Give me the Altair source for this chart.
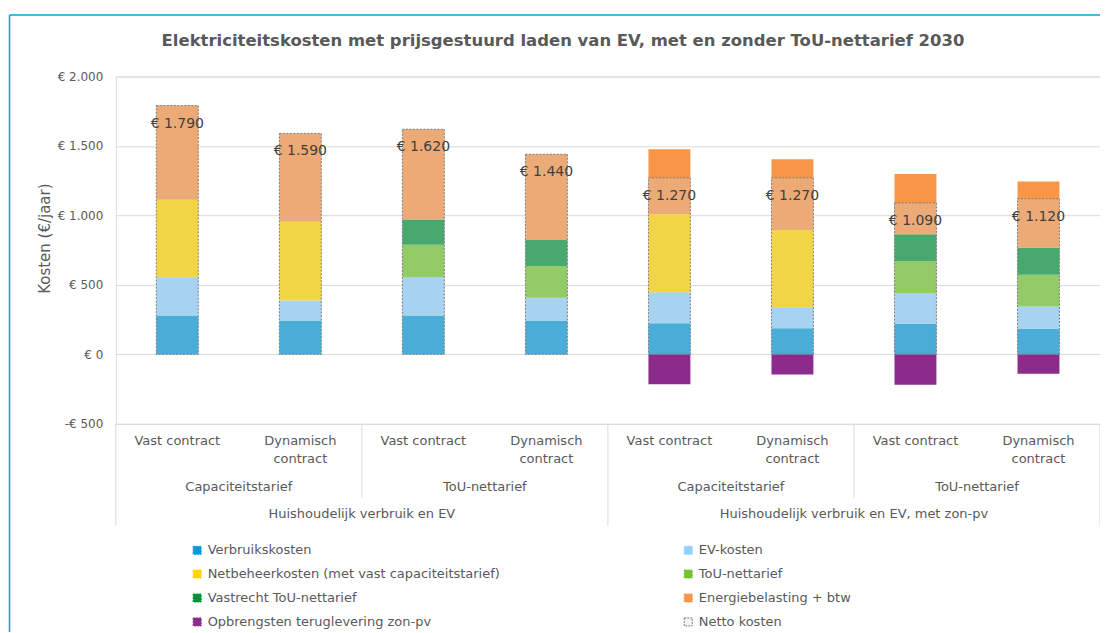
import altair as alt
import pandas as pd

# ---------------- data ----------------
bar_ids = ["b0", "b1", "b2", "b3", "b4", "b5", "b6", "b7"]
contract = ["Vast contract", "Dynamisch\ncontract"] * 4
tarief = ["Capaciteitstarief", "Capaciteitstarief", "ToU-nettarief", "ToU-nettarief",
          "Capaciteitstarief", "Capaciteitstarief", "ToU-nettarief", "ToU-nettarief"]
situatie = ["Huishoudelijk verbruik en EV"] * 4 + ["Huishoudelijk verbruik en EV, met zon-pv"] * 4

# stacking order (bottom to top)
components = ["Verbruikskosten", "EV-kosten",
              "Netbeheerkosten (met vast capaciteitstarief)", "ToU-nettarief",
              "Vastrecht ToU-nettarief", "Energiebelasting + btw",
              "Opbrengsten teruglevering zon-pv", "Netto kosten"]
fill_colors = ["#0499D8", "#8FD1FC", "#FFD400", "#70C532", "#00933A", "#F79646", "#8B2C8B", "#F4F4F4"]
stroke_colors = ["#0499D8", "#8FD1FC", "#FFD400", "#70C532", "#00933A", "#F79646", "#8B2C8B", "#7F7F7F"]
# legend order (legend fills column by column)
legend_order = [0, 2, 4, 6, 1, 3, 5, 7]

verbruik = [280, 240, 280, 240, 223, 187, 221, 185]
ev_kosten = [275, 148, 275, 168, 223, 151, 220, 160]
netbeheer = [557, 566, 0, 0, 563, 556, 0, 0]
tou_nettarief = [0, 0, 234, 227, 0, 0, 230, 228]
vastrecht_tou = [0, 0, 182, 187, 0, 0, 194, 194]
energiebelasting = [678, 636, 649, 618, 467, 510, 432, 477]
opbrengsten = [0, 0, 0, 0, -216, -145, -218, -139]
netto = [1790, 1590, 1620, 1440, 1270, 1270, 1090, 1120]

series = [verbruik, ev_kosten, netbeheer, tou_nettarief, vastrecht_tou, energiebelasting, opbrengsten]


def euro(v):
    s = f"{abs(v):,}".replace(",", ".")
    return ("-€ " if v < 0 else "€ ") + s


rows = []
for k, (name, vals) in enumerate(zip(components[:7], series)):
    for i, v in enumerate(vals):
        if v != 0:
            rows.append({"id": bar_ids[i], "component": name, "value": v, "order": k})
stack_df = pd.DataFrame(rows)

netto_df = pd.DataFrame({"id": bar_ids, "netto": netto, "label": [euro(v) for v in netto]})
row1_df = pd.DataFrame({"id": bar_ids, "label": contract})
row2_df = pd.DataFrame({"id": bar_ids[0::2], "label": tarief[0::2]})
row3_df = pd.DataFrame({"id": [bar_ids[1], bar_ids[5]], "label": [situatie[0], situatie[4]]})
sep_left_df = pd.DataFrame({"id": ["b0", "b2", "b4", "b6"], "kind": ["long", "short", "long", "short"]})
sep_right_df = pd.DataFrame({"id": ["b7"], "kind": ["long"]})
frame_df = pd.DataFrame({"id": ["frame"]})

FONT = "DejaVu Sans"
W, H = 986, 348

xscale = alt.Scale(domain=bar_ids, paddingInner=0, paddingOuter=0)
yscale = alt.Scale(domain=[-500, 2000], nice=False)

label_expr = ("datum.value < 0 ? '-€ ' + replace(format(-datum.value, ','), ',', '.') : "
              "'€ ' + replace(format(datum.value, ','), ',', '.')")

leg_domain = [components[i] for i in legend_order]
leg_fill = [fill_colors[i] for i in legend_order]
leg_stroke = [stroke_colors[i] for i in legend_order]

legend = alt.Legend(
    title=None, orient="none", legendX=75, legendY=468, columns=2,
    columnPadding=182, rowPadding=10, symbolType="square", symbolSize=64,
    symbolStrokeWidth=1, symbolDash=[2, 1], labelFont=FONT, labelFontSize=13,
    labelColor="#595959", labelLimit=0, labelOffset=4, padding=0,
)

bars = alt.Chart(stack_df).mark_bar(width=42, strokeWidth=0).encode(
    x=alt.X("id:N", scale=xscale, axis=None),
    y=alt.Y("value:Q", stack="zero", scale=yscale,
            axis=alt.Axis(values=[-500, 0, 500, 1000, 1500, 2000], labelExpr=label_expr,
                          title="Kosten (€/jaar)", grid=True, ticks=False, domain=False,
                          labelFont=FONT, labelFontSize=12, labelColor="#595959",
                          labelPadding=13, gridColor="#D9D9D9",
                          titleFont=FONT, titleFontSize=15, titleFontWeight="normal",
                          titleColor="#595959", titleX=-71, titleY=162, titleAngle=270,
                          titleAlign="center", titleBaseline="middle")),
    color=alt.Color("component:N", scale=alt.Scale(domain=leg_domain, range=leg_fill), legend=legend),
    stroke=alt.Stroke("component:N", scale=alt.Scale(domain=leg_domain, range=leg_stroke), legend=legend),
    order=alt.Order("order:Q"),
)

overlay = alt.Chart(netto_df).mark_bar(
    width=42, fill="#D7D7D7", fillOpacity=0.33, stroke="#7F7F7F",
    strokeWidth=1, strokeDash=[2, 1.5]
).encode(
    x=alt.X("id:N", scale=xscale, axis=None),
    y=alt.Y("netto:Q", scale=yscale),
    y2=alt.datum(0),
)

netto_text = alt.Chart(netto_df).mark_text(
    font=FONT, fontSize=14, color="#404040", dy=18, baseline="middle"
).encode(
    x=alt.X("id:N", scale=xscale, axis=None),
    y=alt.Y("netto:Q", scale=yscale),
    text="label:N",
)

row1 = alt.Chart(row1_df).mark_text(
    font=FONT, fontSize=13, color="#595959", baseline="middle", lineBreak="\n", lineHeight=18
).encode(x=alt.X("id:N", scale=xscale, axis=None), y=alt.value(365), text="label:N")

row2 = alt.Chart(row2_df).mark_text(
    font=FONT, fontSize=13, color="#595959", baseline="middle"
).encode(x=alt.X("id:N", scale=xscale, axis=None, bandPosition=1), y=alt.value(411), text="label:N")

row3 = alt.Chart(row3_df).mark_text(
    font=FONT, fontSize=13, color="#595959", baseline="middle"
).encode(x=alt.X("id:N", scale=xscale, axis=None, bandPosition=1), y=alt.value(438), text="label:N")

sep_long_left = alt.Chart(sep_left_df).transform_filter("datum.kind == 'long'").mark_rule(
    color="#D9D9D9", strokeWidth=1
).encode(x=alt.X("id:N", scale=xscale, axis=None, bandPosition=0), y=alt.value(H), y2=alt.value(450))

sep_short_left = alt.Chart(sep_left_df).transform_filter("datum.kind == 'short'").mark_rule(
    color="#D9D9D9", strokeWidth=1
).encode(x=alt.X("id:N", scale=xscale, axis=None, bandPosition=0), y=alt.value(H), y2=alt.value(422))

sep_right = alt.Chart(sep_right_df).mark_rule(color="#D9D9D9", strokeWidth=1).encode(
    x=alt.X("id:N", scale=xscale, axis=None, bandPosition=1), y=alt.value(H), y2=alt.value(450))

# outer chart-area frame (top and left edges only visible in the reference)
frame_top = alt.Chart(frame_df).mark_rule(color="#00A3E0", strokeWidth=1.5).encode(
    x=alt.value(-106.5), x2=alt.value(990), y=alt.value(-61.5))
frame_left = alt.Chart(frame_df).mark_rule(color="#00A3E0", strokeWidth=1.5).encode(
    x=alt.value(-106.5), y=alt.value(-61.5), y2=alt.value(560))

chart = alt.layer(
    frame_top, frame_left, bars, overlay, netto_text, row1, row2, row3,
    sep_long_left, sep_short_left, sep_right
).properties(
    width=W, height=H,
    title=alt.TitleParams(
        "Elektriciteitskosten met prijsgestuurd laden van EV, met en zonder ToU-nettarief 2030",
        font=FONT, fontSize=16.5, fontWeight="bold", color="#595959",
        anchor="middle", frame="group", dx=-45, offset=0, dy=35),
    autosize=alt.AutoSizeParams(type="none"),
    padding={"left": 108, "top": 68, "right": 0, "bottom": 208},
).configure_view(stroke="#D9D9D9", strokeWidth=1).configure(background="white")

chart.save("out.html", embed_options={"renderer": "svg", "actions": False})
